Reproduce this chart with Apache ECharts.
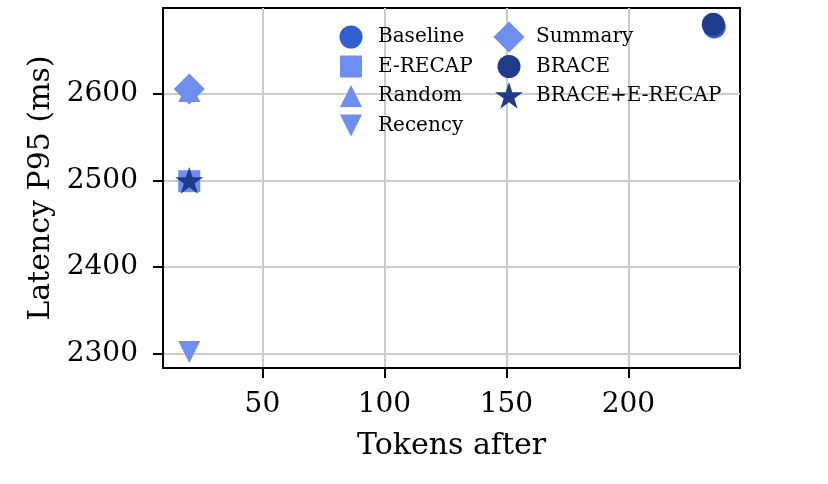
<!DOCTYPE html>
<html>
<head>
<meta charset="utf-8">
<script src="https://cdn.jsdelivr.net/npm/echarts@6/dist/echarts.min.js"></script>
<style>
    html, body { margin: 0; padding: 0; background: #fff; }
    #chart { width: 828px; height: 484px; }
</style>
</head>
<body>
<div id="chart"></div>
<script>
// data
var methods = ['Baseline', 'E-RECAP', 'Random', 'Recency', 'Summary', 'BRACE', 'BRACE+E-RECAP'];
var tokensAfter = [235.2, 20, 20, 20, 20, 234.8, 20];
var latencyP95 = [2677, 2499, 2603, 2302, 2605.5, 2680, 2500];
var xTicks = [50, 100, 150, 200];
var yTicks = [2300, 2400, 2500, 2600];

var STAR = 'path://M100,0L122.45,69.1L195.11,69.1L136.33,111.8L158.78,180.9L100,138.2L41.22,180.9L63.67,111.8L4.89,69.1L77.55,69.1Z';
var TRI_DOWN = 'path://M0,0L200,0L100,200Z';

var colors = ['#3060d0', '#6e8ff0', '#6e8ff0', '#6e8ff0', '#6e8ff0', '#1f3b8c', '#1f3b8c'];
var symbols = ['circle', 'rect', 'triangle', TRI_DOWN, 'diamond', 'circle', STAR];
var sizes = [23, 22, 22, 22, 31, 23, 28];

// legend slots: [icon centre x, icon centre y]
var legendPos = [[351, 37], [351, 66.5], [351, 96], [351, 125.5], [509, 37], [509, 66.5], [509, 96]];

var FONT = 'DejaVu Serif';
var myChart = echarts.init(document.getElementById('chart'), null, {renderer: 'canvas'});

var series = [];
var legends = [];
for (var i = 0; i < methods.length; i++) {
    series.push({
        name: methods[i],
        type: 'scatter',
        symbol: symbols[i],
        symbolSize: sizes[i],
        symbolKeepAspect: true,
        itemStyle: {color: colors[i], opacity: 1},
        data: [[tokensAfter[i], latencyP95[i]]]
    });
    // one legend per entry so each icon keeps its own size
    legends.push({
        data: [methods[i]],
        orient: 'vertical',
        left: legendPos[i][0] - sizes[i] / 2,
        top: legendPos[i][1] - sizes[i] / 2,
        padding: 0,
        itemWidth: sizes[i],
        itemHeight: sizes[i],
        selectedMode: false,
        textStyle: {
            fontFamily: FONT, fontSize: 20, color: '#000',
            padding: [0, 0, 0, 22 - sizes[i] / 2]
        }
    });
}

var option = {
    animation: false,
    backgroundColor: '#fff',
    grid: {
        left: 163, top: 8, right: 88, bottom: 116,
        show: true, borderColor: '#000', borderWidth: 2, backgroundColor: 'transparent'
    },
    legend: legends,
    xAxis: {
        type: 'value',
        min: 9.25,
        max: 245.75,
        name: 'Tokens after',
        nameLocation: 'middle',
        nameGap: 63,
        nameTextStyle: {fontFamily: FONT, fontSize: 30, color: '#000'},
        axisLine: {show: true, onZero: false, lineStyle: {color: '#000', width: 2}},
        axisTick: {show: true, length: 10, customValues: xTicks, lineStyle: {color: '#000', width: 2}},
        axisLabel: {customValues: xTicks, margin: 23, fontFamily: FONT, fontSize: 28, color: '#000'},
        splitLine: {show: true, lineStyle: {color: '#cccccc', width: 2}}
    },
    yAxis: {
        type: 'value',
        min: 2283.5,
        max: 2698.8,
        name: 'Latency P95 (ms)',
        nameLocation: 'middle',
        nameGap: 105,
        nameTextStyle: {fontFamily: FONT, fontSize: 30, color: '#000'},
        axisLine: {show: true, onZero: false, lineStyle: {color: '#000', width: 2}},
        axisTick: {show: true, length: 10, customValues: yTicks, lineStyle: {color: '#000', width: 2}},
        axisLabel: {
            customValues: yTicks, margin: 25, fontFamily: FONT, fontSize: 28, color: '#000',
            formatter: function (v) { return String(v); }
        },
        splitLine: {show: true, lineStyle: {color: '#cccccc', width: 2}}
    },
    series: series
};

myChart.setOption(option);
</script>
</body>
</html>
